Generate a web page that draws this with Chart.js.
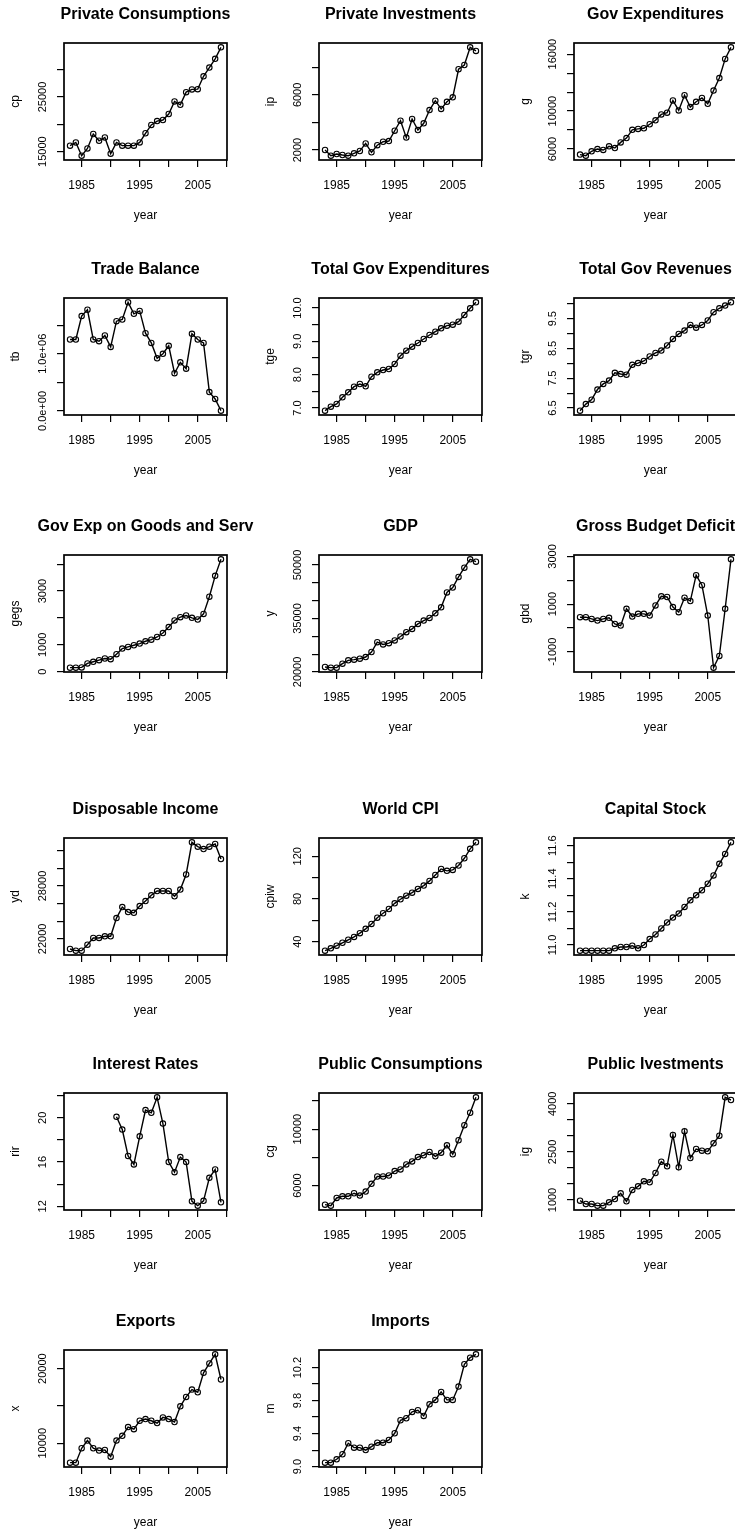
<!DOCTYPE html>
<html>
<head>
<meta charset="utf-8">
<script src="https://cdn.jsdelivr.net/npm/chart.js@4.4.0/dist/chart.umd.min.js"></script>
<style>
  html, body { margin: 0; padding: 0; background: #fff; }
  #wrap { position: relative; width: 735px; height: 1532px; overflow: hidden; }
  #wrap canvas { position: absolute; }
</style>
</head>
<body>
<div id="wrap"></div>
<script>
// years on the x axis
var years = [1983,1984,1985,1986,1987,1988,1989,1990,1991,1992,1993,1994,1995,1996,1997,1998,1999,2000,2001,2002,2003,2004,2005,2006,2007,2008,2009];
var xTicks = [1985,1990,1995,2000,2005,2010];
var xLabels = ['1985','1995','2005'];

// series
var cp = [16100,16700,14270,15600,18240,17000,17600,14630,16700,16100,16100,16100,16700,18370,19900,20600,20800,21900,24200,23570,25900,26400,26450,28800,30400,32000,34100];
var ip = [2000,1590,1710,1640,1590,1760,1930,2480,1830,2350,2600,2650,3400,4130,2900,4250,3450,3940,4900,5580,4980,5500,5820,7860,8170,9450,9190];
var g = [5410,5300,5760,6000,5900,6280,6100,6700,7150,8020,8120,8190,8610,9030,9650,9830,11120,10070,11670,10420,10980,11390,10770,12160,13480,15500,16720];
var tb = [1250000,1250000,1660000,1770000,1250000,1220000,1320000,1120000,1570000,1600000,1900000,1700000,1750000,1360000,1190000,920000,1000000,1140000,660000,850000,740000,1350000,1250000,1190000,330000,210000,5000];
var tge = [6.92,7.04,7.12,7.32,7.47,7.64,7.72,7.65,7.94,8.07,8.14,8.17,8.32,8.57,8.72,8.84,8.95,9.07,9.19,9.29,9.39,9.47,9.50,9.59,9.79,9.99,10.17];
var tgr = [6.41,6.63,6.78,7.12,7.31,7.42,7.68,7.64,7.62,7.95,8.01,8.08,8.23,8.35,8.43,8.60,8.82,8.99,9.10,9.29,9.20,9.29,9.44,9.72,9.85,9.94,10.05];
var gegs = [150,150,160,308,369,430,492,467,652,861,923,984,1046,1132,1193,1292,1439,1661,1907,2030,2091,2005,1943,2152,2792,3567,4182];
var gdp = [21390,21200,21200,22320,23250,23440,23720,24180,25600,28360,27710,28080,28830,29940,31150,32080,33470,34400,35140,36440,38120,42300,43690,46660,49260,51590,50940];
var gbd = [452,452,381,311,381,424,169,99,805,480,593,593,522,946,1327,1299,875,664,1271,1130,2217,1793,522,-1666,-1172,805,2880];
var yd = [20860,20670,20670,21350,22110,22110,22300,22300,24360,25610,25040,24960,25720,26290,26940,27430,27430,27430,26830,27590,29300,32940,32450,32180,32450,32750,31040];
var cpiw = [31.6,33.8,36.3,39.0,41.8,44.5,48.0,52.0,56.6,62.5,66.6,70.6,75.9,79.7,83.1,85.9,89.4,92.5,96.9,102.5,108.1,106.3,107.2,111.3,118.1,126.9,133.0];
var k = [10.966,10.966,10.966,10.966,10.966,10.966,10.98,10.988,10.988,10.996,10.98,11.0,11.036,11.064,11.10,11.136,11.166,11.19,11.23,11.27,11.30,11.33,11.37,11.42,11.49,11.55,11.62];
var rir = [null,null,null,null,null,null,null,null,20.09,18.94,16.55,15.79,18.33,20.7,20.45,21.85,19.48,16.0,15.09,16.45,16.0,12.45,12.06,12.5,14.58,15.33,12.36];
var cg = [4643,4572,5119,5238,5238,5453,5286,5571,6119,6643,6643,6714,7023,7142,7500,7714,8023,8142,8380,8071,8333,8856,8213,9213,10284,11165,12259];
var ig = [979,875,875,823,823,927,1031,1208,958,1312,1426,1582,1551,1842,2196,2050,3028,2019,3142,2310,2591,2539,2518,2768,3007,4203,4120];
var exportsX = [7390,7390,9325,10360,9325,9010,9100,8200,10360,10990,12160,11890,13015,13240,13015,12700,13465,13240,12835,14950,16210,17200,16840,19450,20710,21925,18550];
var m = [9.048,9.048,9.089,9.15,9.283,9.23,9.23,9.20,9.242,9.29,9.29,9.323,9.404,9.562,9.586,9.663,9.683,9.614,9.755,9.808,9.905,9.808,9.808,9.97,10.24,10.32,10.36];

var panels = [
  {title: 'Private Consumptions', ylab: 'cp', data: cp, yTicks: [15000,20000,25000,30000], yLabels: ['15000','25000']},
  {title: 'Private Investments', ylab: 'ip', data: ip, yTicks: [2000,4000,6000,8000], yLabels: ['2000','6000']},
  {title: 'Gov Expenditures', ylab: 'g', data: g, yTicks: [6000,8000,10000,12000,14000,16000], yLabels: ['6000','10000','16000']},
  {title: 'Trade Balance', ylab: 'tb', data: tb, yTicks: [0,500000,1000000,1500000], yLabels: ['0.0e+00','1.0e+06']},
  {title: 'Total Gov Expenditures', ylab: 'tge', data: tge, yTicks: [7,7.5,8,8.5,9,9.5,10], yLabels: ['7.0','8.0','9.0','10.0']},
  {title: 'Total Gov Revenues', ylab: 'tgr', data: tgr, yTicks: [6.5,7,7.5,8,8.5,9,9.5,10], yLabels: ['6.5','7.5','8.5','9.5']},
  {title: 'Gov Exp on Goods and Serv', ylab: 'gegs', data: gegs, yTicks: [0,1000,2000,3000,4000], yLabels: ['0','1000','3000']},
  {title: 'GDP', ylab: 'y', data: gdp, yTicks: [20000,25000,30000,35000,40000,45000,50000], yLabels: ['20000','35000','50000']},
  {title: 'Gross Budget Deficit', ylab: 'gbd', data: gbd, yTicks: [-1000,0,1000,2000,3000], yLabels: ['-1000','1000','3000']},
  {title: 'Disposable Income', ylab: 'yd', data: yd, yTicks: [22000,24000,26000,28000,30000,32000], yLabels: ['22000','28000']},
  {title: 'World CPI', ylab: 'cpiw', data: cpiw, yTicks: [40,60,80,100,120], yLabels: ['40','80','120']},
  {title: 'Capital Stock', ylab: 'k', data: k, yTicks: [11,11.1,11.2,11.3,11.4,11.5,11.6], yLabels: ['11.0','11.2','11.4','11.6']},
  {title: 'Interest Rates', ylab: 'rir', data: rir, yTicks: [12,14,16,18,20,22], yLabels: ['12','16','20']},
  {title: 'Public Consumptions', ylab: 'cg', data: cg, yTicks: [6000,8000,10000,12000], yLabels: ['6000','10000']},
  {title: 'Public Ivestments', ylab: 'ig', data: ig, yTicks: [1000,1500,2000,2500,3000,3500,4000], yLabels: ['1000','2500','4000']},
  {title: 'Exports', ylab: 'x', data: exportsX, yTicks: [10000,15000,20000], yLabels: ['10000','20000']},
  {title: 'Imports', ylab: 'm', data: m, yTicks: [9,9.2,9.4,9.6,9.8,10,10.2], yLabels: ['9.0','9.4','9.8','10.2']}
];

var rowTops = [0, 255, 512, 795, 1050, 1307];
var colLefts = [0, 255, 510];
var FONT = '"Liberation Sans", Arial, sans-serif';
Chart.defaults.font.family = FONT;
Chart.defaults.color = '#000';

// R-like frame around the plot and vertical y tick labels
var rFrame = {
  id: 'rFrame',
  afterDraw: function(chart, args, opts) {
    var ctx = chart.ctx, a = chart.chartArea, ys = chart.scales.y;
    ctx.save();
    ctx.strokeStyle = '#000';
    ctx.lineWidth = 1.7;
    ctx.strokeRect(a.left, a.top, a.right - a.left, a.bottom - a.top);
    ctx.fillStyle = '#000';
    ctx.font = '11px ' + FONT;
    ctx.textAlign = 'center';
    ctx.textBaseline = 'middle';
    opts.labels.forEach(function(t) {
      var py = ys.getPixelForValue(Number(t));
      ctx.save();
      ctx.translate(43, py);
      ctx.rotate(-Math.PI / 2);
      ctx.fillText(t, 0, 0);
      ctx.restore();
    });
    ctx.restore();
  }
};

function pad4(lo, hi) {
  var r = hi - lo;
  return [lo - 0.04 * r, hi + 0.04 * r];
}

var xr = pad4(years[0], years[years.length - 1]);
var wrap = document.getElementById('wrap');

panels.forEach(function(p, idx) {
  var cv = document.createElement('canvas');
  cv.width = 255;
  cv.height = 250;
  cv.style.left = colLefts[idx % 3] + 'px';
  cv.style.top = rowTops[Math.floor(idx / 3)] + 'px';
  wrap.appendChild(cv);

  var vals = p.data.filter(function(v) { return v !== null; });
  var yr = pad4(Math.min.apply(null, vals), Math.max.apply(null, vals));
  var pts = years.map(function(yy, i) { return {x: yy, y: p.data[i]}; });

  new Chart(cv, {
    type: 'line',
    data: {
      datasets: [{
        data: pts,
        borderColor: '#000',
        borderWidth: 1.4,
        pointRadius: 2.7,
        pointBorderWidth: 1.1,
        pointBorderColor: '#000',
        pointBackgroundColor: 'rgba(0,0,0,0)',
        fill: false,
        tension: 0,
        spanGaps: false
      }]
    },
    options: {
      responsive: false,
      animation: false,
      events: [],
      // title box spans 36..255 so it is centred on the plot box (64..227)
      layout: {padding: {left: 36, right: 0, top: 0, bottom: 0}},
      plugins: {
        legend: {display: false},
        tooltip: {enabled: false},
        title: {
          display: true, text: p.title, color: '#000',
          font: {size: 16, weight: 'bold'},
          padding: {top: 5, bottom: 18.8}
        },
        rFrame: {labels: p.yLabels}
      },
      scales: {
        x: {
          type: 'linear', min: xr[0], max: xr[1],
          afterBuildTicks: function(s) {
            s.ticks = xTicks.filter(function(v) { return v >= s.min && v <= s.max; })
                            .map(function(v) { return {value: v}; });
          },
          afterFit: function(s) { s.height = 90; },
          grid: {drawOnChartArea: false, drawTicks: true, tickLength: 7, color: '#000', lineWidth: 1.2},
          border: {display: false},
          ticks: {
            autoSkip: false, maxRotation: 0, minRotation: 0, padding: 11, color: '#000',
            font: {size: 12},
            callback: function(v) { return xLabels.indexOf(String(v)) >= 0 ? String(v) : ''; }
          },
          title: {display: true, text: 'year', color: '#000', font: {size: 12}, padding: {top: 0, bottom: 27}}
        },
        y: {
          type: 'linear', min: yr[0], max: yr[1],
          afterBuildTicks: function(s) {
            var eps = (s.max - s.min) * 1e-6;
            s.ticks = p.yTicks.filter(function(v) { return v >= s.min - eps && v <= s.max + eps; })
                              .map(function(v) { return {value: v}; });
          },
          afterFit: function(s) { s.width = 28; },
          grid: {drawOnChartArea: false, drawTicks: true, tickLength: 7, color: '#000', lineWidth: 1.2},
          border: {display: false},
          ticks: {display: false},
          title: {display: true, text: p.ylab, color: '#000', font: {size: 12}, padding: {top: -28, bottom: 0}}
        },
        // empty spacer on the right so the plot box ends at 227
        yRight: {
          type: 'linear', position: 'right', display: true,
          afterFit: function(s) { s.width = 28; },
          grid: {display: false},
          border: {display: false},
          ticks: {display: false}
        }
      }
    },
    plugins: [rFrame]
  });
});
</script>
</body>
</html>
